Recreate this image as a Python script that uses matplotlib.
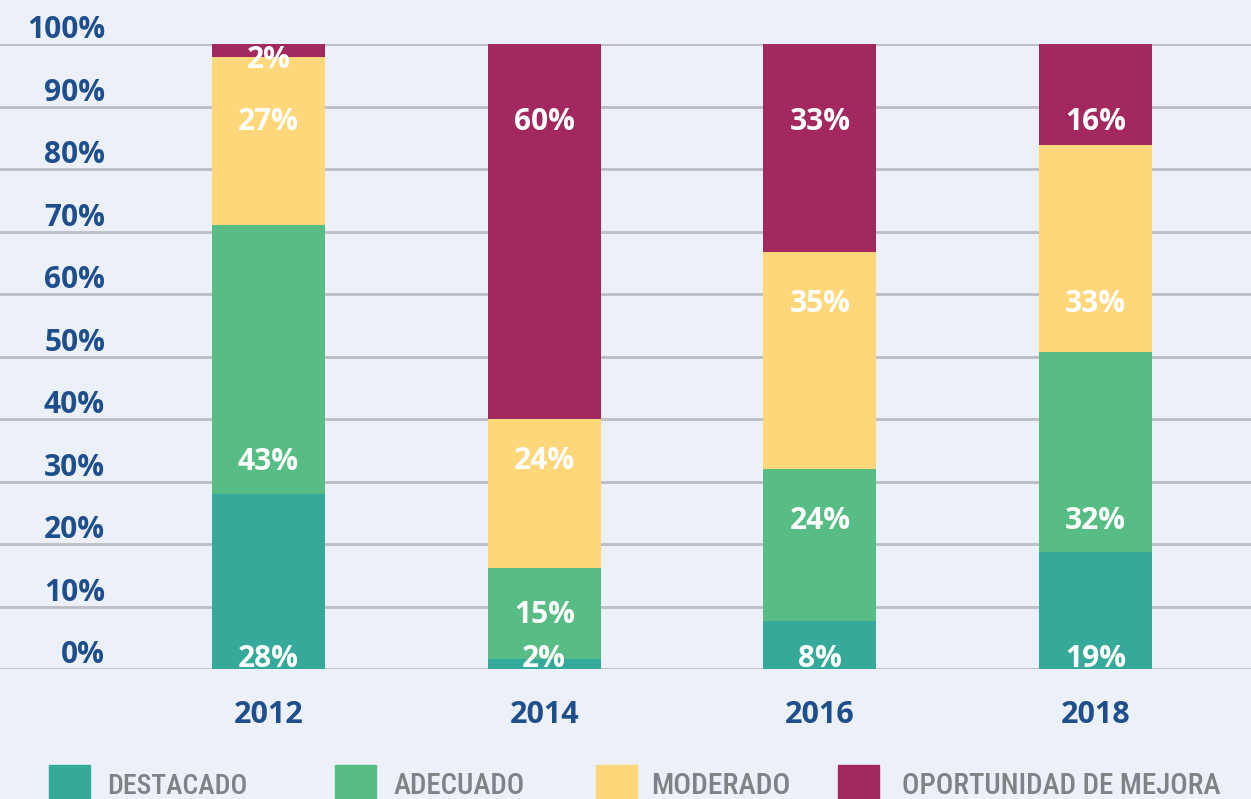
import matplotlib
matplotlib.use('Agg')
import matplotlib.pyplot as plt
from matplotlib.patches import Rectangle
import matplotlib.transforms as mtransforms
import numpy as np

# data
years = ['2012', '2014', '2016', '2018']
series_names = ['DESTACADO', 'ADECUADO', 'MODERADO', 'OPORTUNIDAD DE MEJORA']
destacado = [28.0, 1.6, 7.7, 18.7]
adecuado = [43.0, 14.6, 24.3, 32.0]
moderado = [27.0, 23.8, 34.7, 33.1]
oportunidad = [2.0, 60.0, 33.3, 16.2]
y_ticks = [0, 10, 20, 30, 40, 50, 60, 70, 80, 90, 100]

# label baselines (in % units) per year, bottom to top segment
label_base = [
    [0.3, 31.8, 86.2, 96.2],
    [0.3, 7.4, 32.0, 86.2],
    [0.3, 22.4, 57.1, 86.2],
    [0.3, 22.4, 57.1, 86.2],
]

colors = ['#35AA9A', '#58BD84', '#FED77B', '#A2285F']
bg = '#ECF0F8'
blue = '#1F4E8C'
grey = '#808285'

W, H = 1251, 799
fig = plt.figure(figsize=(W / 100, H / 100), dpi=100, facecolor=bg)
ax = fig.add_axes([0, (H - 669) / H, 1, 625 / H])
ax.set_facecolor(bg)

x = np.arange(len(years))
step = 275.7
ax.set_xlim(-268.5 / step, (W - 268.5) / step)
ax.set_ylim(0, 100)

for v in y_ticks:
    ax.axhline(v, color='#BDBEC3', lw=2, zorder=1)

bottom = np.zeros(len(years))
for vals, col in zip([destacado, adecuado, moderado, oportunidad], colors):
    ax.bar(x, vals, width=113 / step, bottom=bottom, color=col, zorder=2)
    bottom += np.array(vals)

all_vals = list(zip(destacado, adecuado, moderado, oportunidad))
for i in range(len(years)):
    for j, v in enumerate(all_vals[i]):
        ax.text(x[i], label_base[i][j], f'{round(v):d}%', ha='center', va='baseline',
                color='white', fontsize=21.5, fontweight='bold', family='Open Sans', zorder=3)

# y labels sit above each gridline
trans = mtransforms.blended_transform_factory(fig.transFigure, ax.transData)
for v in y_ticks:
    ax.annotate(f'{v}%', xy=(105 / W, v), xycoords=trans, xytext=(0, 4.3),
                textcoords='offset points', ha='right', va='baseline',
                color=blue, fontsize=21.5, fontweight='bold', family='Open Sans')

ax.set_xticks(x)
ax.set_xticklabels(years, color=blue, fontsize=22, fontweight='bold', family='Open Sans')
ax.tick_params(axis='x', length=0, pad=22)
ax.set_yticks([])
for s in ax.spines.values():
    s.set_visible(False)

# legend
leg_sq = [49, 335, 596, 838]
leg_tx = [107, 394, 651, 902]
leg_w = [140, 131, 139, 318]  # target text widths in px
fig.canvas.draw()
renderer = fig.canvas.get_renderer()
for sx, tx, tw, col, name in zip(leg_sq, leg_tx, leg_w, colors, series_names):
    fig.patches.append(Rectangle((sx / W, 0), 41 / W, 34 / H, transform=fig.transFigure,
                                 color=col, zorder=5))
    t = fig.text(tx / W, (H - 794) / H, name, ha='left', va='baseline', color=grey,
                 fontsize=21, family=['Roboto Condensed', 'DejaVu Sans'],
                 fontstretch='condensed', fontweight='medium')
    bw = t.get_window_extent(renderer).width
    t.set_fontsize(21 * tw / bw)

fig.savefig('out.png', dpi=100, facecolor=bg)
